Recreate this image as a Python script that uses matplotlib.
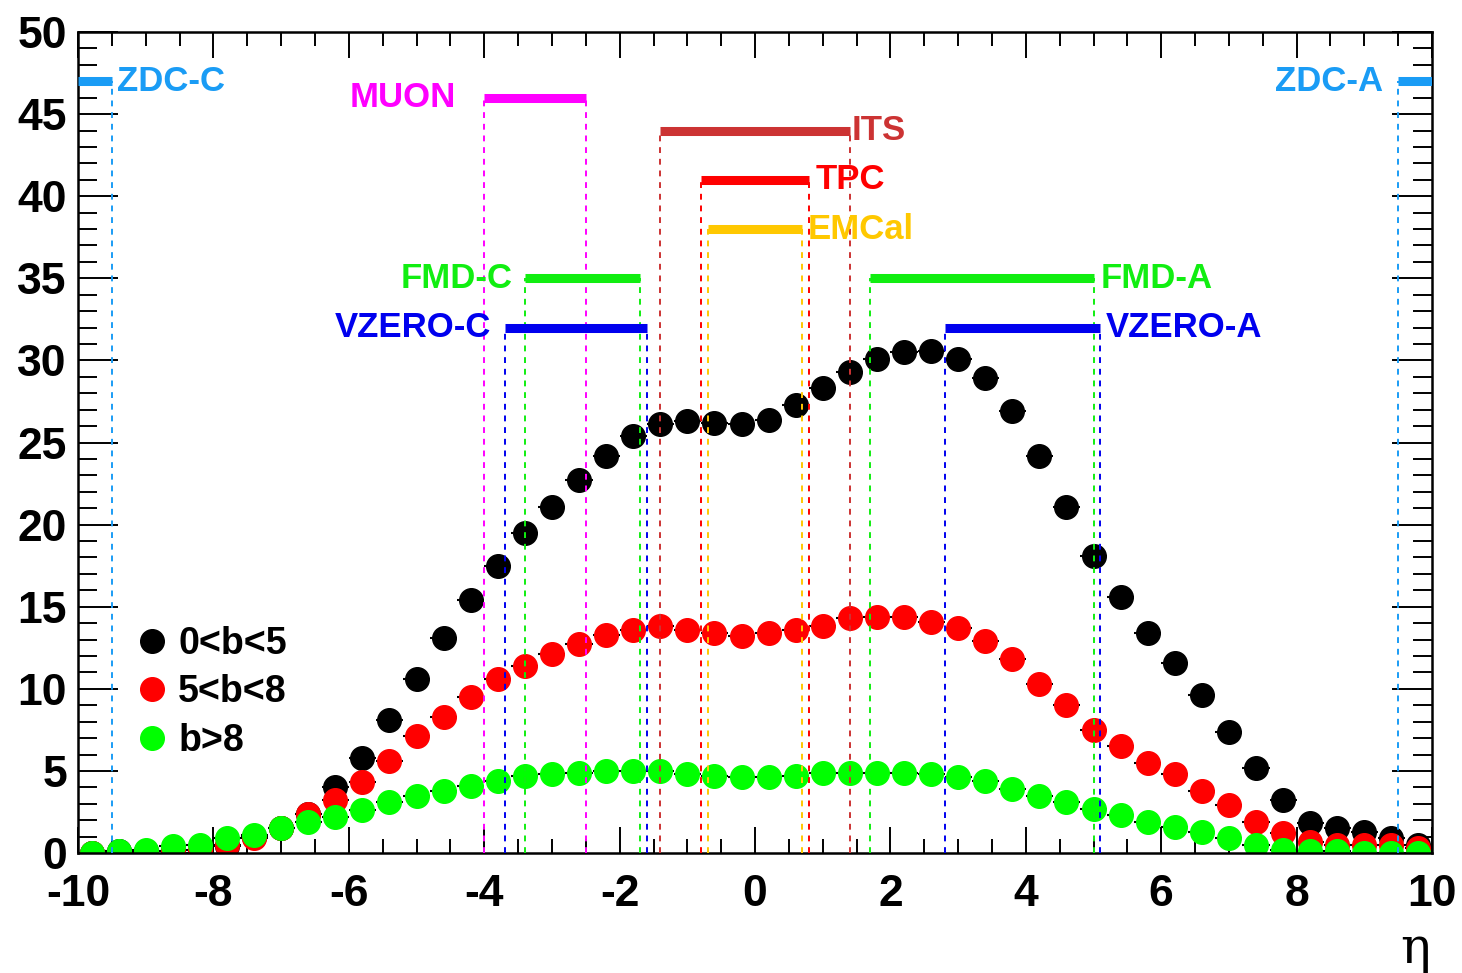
import numpy as np
import matplotlib.pyplot as plt
import matplotlib.transforms as mtransforms
from matplotlib.lines import Line2D
from matplotlib.ticker import MultipleLocator

plt.rcParams['font.family'] = ['Liberation Sans', 'DejaVu Sans']
plt.rcParams['font.weight'] = 'bold'
plt.rcParams['axes.unicode_minus'] = False

# bin centres in eta (bin width 0.4)
eta = np.arange(-9.8, 10.0, 0.4)

# dN/deta per impact parameter class
central = [0.0, 0.1, 0.1, 0.1, 0.0, 0.4, 1.0, 1.5, 2.4, 4.0,
           5.8, 8.1, 10.6, 13.1, 15.4, 17.5, 19.5, 21.1, 22.7, 24.2,
           25.4, 26.1, 26.3, 26.2, 26.1, 26.4, 27.3, 28.3, 29.3, 30.1,
           30.5, 30.6, 30.1, 28.9, 26.9, 24.2, 21.1, 18.1, 15.6, 13.4,
           11.6, 9.6, 7.4, 5.2, 3.2, 1.8, 1.5, 1.3, 0.9, 0.5]
semi = [0.0, 0.0, 0.0, 0.1, 0.2, 0.5, 0.9, 1.5, 2.4, 3.2,
        4.3, 5.6, 7.1, 8.3, 9.5, 10.6, 11.4, 12.1, 12.7, 13.3,
        13.6, 13.8, 13.6, 13.4, 13.2, 13.4, 13.6, 13.8, 14.3, 14.4,
        14.4, 14.1, 13.7, 12.9, 11.8, 10.3, 9.0, 7.5, 6.5, 5.5,
        4.8, 3.8, 2.9, 1.9, 1.2, 0.7, 0.5, 0.5, 0.5, 0.3]
periph = [0.0, 0.1, 0.2, 0.4, 0.5, 0.9, 1.1, 1.5, 1.9, 2.2,
          2.6, 3.1, 3.5, 3.8, 4.1, 4.4, 4.7, 4.8, 4.9, 5.0,
          5.0, 5.0, 4.8, 4.7, 4.6, 4.6, 4.7, 4.9, 4.9, 4.9,
          4.9, 4.8, 4.6, 4.4, 3.9, 3.5, 3.1, 2.7, 2.3, 1.9,
          1.6, 1.3, 0.9, 0.5, 0.2, 0.1, 0.1, 0.0, 0.0, 0.0]
series_labels = ['0<b<5', '5<b<8', 'b>8']
series_colors = ['#000000', '#ff0000', '#00ff00']

# detector acceptances
detectors = ['ZDC-C', 'ZDC-A', 'MUON', 'ITS', 'TPC', 'EMCal',
             'FMD-C', 'FMD-A', 'VZERO-C', 'VZERO-A']
det_min = [-10.0, 9.5, -4.0, -1.4, -0.8, -0.7, -3.4, 1.7, -3.7, 2.8]
det_max = [-9.5, 10.0, -2.5, 1.4, 0.8, 0.7, -1.7, 5.0, -1.6, 5.1]
det_y = [47, 47, 46, 44, 41, 38, 35, 35, 32, 32]
det_colors = ['#1a9cf5', '#1a9cf5', '#ff00ff', '#cc3333', '#ff0000',
              '#ffc800', '#11ee11', '#11ee11', '#0000ee', '#0000ee']
det_side = ['right', 'left', 'left', 'right', 'right', 'right',
            'left', 'right', 'left', 'right']
label_gap = [0.08, 0.22, 0.42, 0.02, 0.1, 0.08, 0.18, 0.1, 0.2, 0.08]

fig = plt.figure(figsize=(14.62, 9.73), dpi=100)
ax = fig.add_axes([0.0534, 0.1233, 0.9261, 0.8438])

for vals, col in zip([central, semi, periph], series_colors):
    ax.errorbar(eta, vals, xerr=0.2, fmt='o', color=col, ecolor='black',
                elinewidth=1.5, capsize=0, markersize=17, zorder=2)

for name, lo, hi, yv, col, side, gap in zip(detectors, det_min, det_max, det_y,
                                            det_colors, det_side, label_gap):
    ax.plot([lo, hi], [yv, yv], color=col, lw=6.5, solid_capstyle='butt', zorder=4)
    for xv in (lo, hi):
        if abs(xv) < 10:
            ax.plot([xv, xv], [0, yv], color=col, lw=1.4, ls=(0, (3, 3)), zorder=3)
    if side == 'right':
        ax.text(hi + gap, yv, name, color=col, fontsize=25, fontweight='bold',
                ha='left', va='center')
    else:
        ax.text(lo - gap, yv, name, color=col, fontsize=25, fontweight='bold',
                ha='right', va='center')

handles = [Line2D([], [], ls='none', marker='o', markersize=17, color=c)
           for c in series_colors]
ax.legend(handles, series_labels, loc='upper left', bbox_to_anchor=(0.024, 0.313),
          frameon=True, facecolor='white', edgecolor='none', framealpha=1,
          prop={'size': 27, 'weight': 'bold'}, handlelength=0.6,
          handletextpad=0.4, labelspacing=0.33, borderpad=0.3)

ax.set_xlim(-10, 10)
ax.set_ylim(0, 50)
ax.xaxis.set_major_locator(MultipleLocator(2))
ax.xaxis.set_minor_locator(MultipleLocator(0.5))
ax.yaxis.set_major_locator(MultipleLocator(5))
ax.yaxis.set_minor_locator(MultipleLocator(1))
ax.tick_params(axis='both', which='both', direction='in', top=True, right=True,
               width=1.4, labelsize=32)
ax.tick_params(axis='x', which='major', length=19, pad=15)
ax.tick_params(axis='x', which='minor', length=10)
ax.tick_params(axis='y', which='major', length=29, pad=8)
ax.tick_params(axis='y', which='minor', length=14)
for lab in ax.get_xticklabels() + ax.get_yticklabels():
    lab.set_fontweight('bold')
for sp in ax.spines.values():
    sp.set_linewidth(1.8)

# nudge the y "0" label up a little so it does not run into "-10"
fig.canvas.draw()
ylab0 = ax.yaxis.get_major_ticks()[0].label1
ylab0.set_transform(ylab0.get_transform() +
                    mtransforms.ScaledTranslation(0, 6 / 72, fig.dpi_scale_trans))

fig.text(0.968, 0.024, 'η', fontsize=36, family='DejaVu Serif',
         fontweight='normal', ha='center', va='center')

fig.savefig('out.png', dpi=100)
